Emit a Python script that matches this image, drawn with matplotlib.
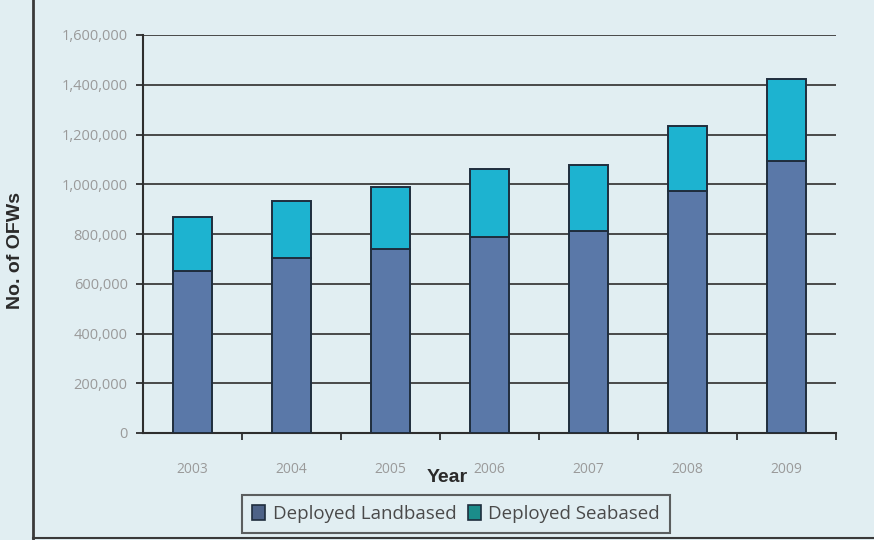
import matplotlib
matplotlib.use("Agg")
import matplotlib.pyplot as plt
from matplotlib.patches import Patch
from matplotlib.lines import Line2D
from matplotlib.ticker import FuncFormatter, FixedLocator

years = ["2003", "2004", "2005", "2006", "2007", "2008", "2009"]
landbased = [652000, 705000, 740000, 788000, 811000, 974000, 1092000]
seabased = [216000, 229000, 248000, 274000, 267000, 262000, 330000]
y_ticks = [0, 200000, 400000, 600000, 800000, 1000000, 1200000, 1400000, 1600000]

bg = "#e1eef2"
land_color = "#5a78a8"
sea_color = "#1db3d0"
edge = "#1f2d3d"

fig = plt.figure(figsize=(8.74, 5.40), dpi=100, facecolor=bg)
ax = fig.add_axes([143 / 874, 1 - 433 / 540, 693 / 874, 398 / 540])
ax.set_facecolor(bg)

x = list(range(len(years)))
ax.bar(x, landbased, width=0.40, color=land_color, edgecolor=edge, linewidth=1.4, zorder=3)
ax.bar(x, seabased, bottom=landbased, width=0.40, color=sea_color, edgecolor=edge,
       linewidth=1.4, zorder=3)

ax.set_xlim(-0.5, len(years) - 0.5)
ax.set_ylim(0, 1600000)
ax.yaxis.set_major_locator(FixedLocator(y_ticks))
ax.yaxis.set_major_formatter(FuncFormatter(lambda v, p: f"{int(v):,}"))
ax.grid(axis="y", color="#3c3c3c", linewidth=1.3, zorder=1)

for s in ["top", "right"]:
    ax.spines[s].set_visible(False)
for s in ["left", "bottom"]:
    ax.spines[s].set_color("#2e2e2e")
    ax.spines[s].set_linewidth(1.5)

ax.tick_params(axis="y", length=5, width=1.3, color="#2e2e2e", labelsize=10.5,
               labelcolor="#9a9a9a", pad=6)
ax.set_yticklabels([f"{v:,}" for v in y_ticks], fontfamily="Open Sans")

ax.set_xticks(x)
ax.set_xticklabels(years, fontfamily="Open Sans", fontsize=10, color="#9a9a9a")
ax.tick_params(axis="x", which="major", length=0, pad=21)
ax.set_xticks([i + 0.5 for i in range(len(years))], minor=True)
ax.tick_params(axis="x", which="minor", length=5, width=1.3, color="#2e2e2e", direction="out")

fig.text(447 / 874, 1 - 478 / 540, "Year", ha="center", va="center", fontsize=14,
         fontweight="bold", fontfamily="Liberation Sans", color="#2a2a2a")
fig.text(16 / 874, 1 - 250 / 540, "No. of OFWs", ha="center", va="center", rotation=90,
         fontsize=14, fontweight="bold", fontfamily="Liberation Sans", color="#2a2a2a")

# frame lines of the chart area
fig.add_artist(Line2D([33 / 874, 33 / 874], [0, 1], color="#3a3a3a", linewidth=2))
fig.add_artist(Line2D([33 / 874, 1], [2 / 540, 2 / 540], color="#3a3a3a", linewidth=1.5))

handles = [
    Patch(facecolor="#4d6287", edgecolor="#1f2d3d", linewidth=1.2, label="Deployed Landbased"),
    Patch(facecolor="#1b8c8a", edgecolor="#1f2d3d", linewidth=1.2, label="Deployed Seabased"),
]
leg = fig.legend(handles=handles, loc="center", bbox_to_anchor=(456 / 874, 1 - 514 / 540),
                 ncol=2, frameon=True, fancybox=False, handlelength=0.7, handleheight=0.9,
                 handletextpad=0.4, columnspacing=0.6, borderpad=0.55,
                 prop={"family": "Open Sans", "size": 13.5})
leg.get_frame().set_edgecolor("#3a3a3a")
leg.get_frame().set_linewidth(1.5)
leg.get_frame().set_facecolor(bg)
for t in leg.get_texts():
    t.set_color("#4a4a4a")

fig.savefig("out.png", dpi=100, facecolor=bg)
